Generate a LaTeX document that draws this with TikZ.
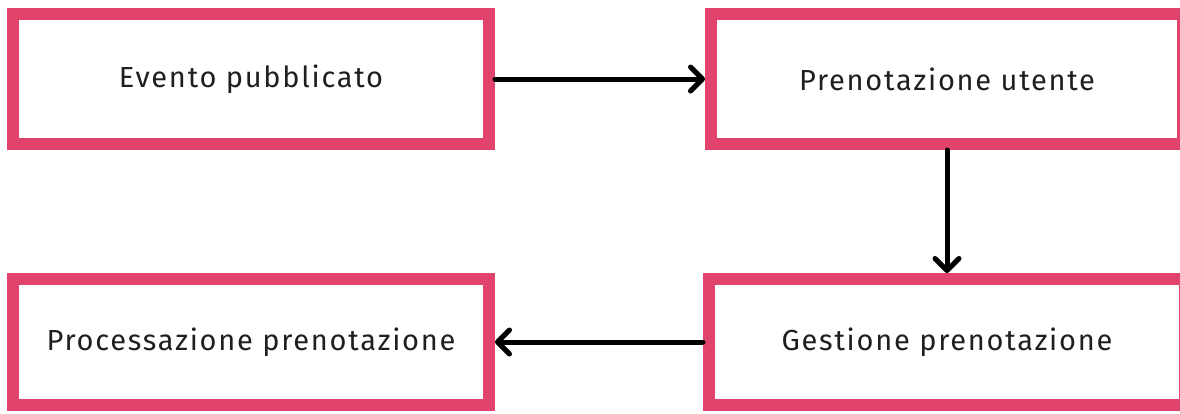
\documentclass[tikz,border=0pt]{standalone}
\usepackage{fontspec}
\setmainfont{Fira Sans}
\newfontfamily\boxfont[LetterSpace=6]{Fira Sans}
\usetikzlibrary{arrows.meta}
\definecolor{boxpink}{HTML}{E0446C}
\tikzset{
  stepbox/.style={draw=boxpink, line width=12pt, fill=white, rectangle, minimum width=476pt, minimum height=130pt, inner sep=0pt, font=\boxfont\fontsize{29}{33}\selectfont, text=black!88},
  flow/.style={line width=5pt, draw=black, -{Straight Barb[length=12pt,width=24pt,line cap=round,line join=round]}, line cap=round}
}
\begin{document}
\begin{tikzpicture}[x=1pt,y=-1pt]
\useasboundingbox (0,0) rectangle (1180,413);
\clip (0,0) rectangle (1180,413);
\node[stepbox] (a) at (251,79) {Evento pubblicato};
\node[stepbox, minimum width=472pt] (b) at (947,79) {Prenotazione utente};
\node[stepbox, minimum height=126pt] (c) at (947,342) {Gestione prenotazione};
\node[stepbox, minimum height=126pt] (d) at (251,342) {Processazione prenotazione};
\draw[flow] (a.east) -- (b.west);
\draw[flow] (b.south) -- (c.north);
\draw[flow] (c.west) -- (d.east);
\end{tikzpicture}
\end{document}
